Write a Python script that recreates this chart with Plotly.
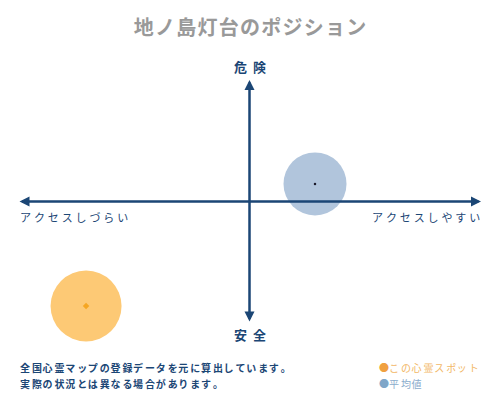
import plotly.graph_objects as go

title = "地ノ島灯台のポジション"

# 位置 (アクセス, 危険度) -10 ~ 10
spot_x = [-7.06]
spot_y = [-8.6]
avg_x = [2.83]
avg_y = [1.45]

label_top = "危険"
label_bottom = "安全"
label_left = "アクセスしづらい"
label_right = "アクセスしやすい"
note_lines = ["全国心霊マップの登録データを元に算出しています。", "実際の状況とは異なる場合があります。"]
legend_names = ["この心霊スポット", "平均値"]

navy = "#1b4675"
font_jp = "Noto Sans CJK JP"


def spaced(s, sep="\u2009"):
    return sep.join(list(s))


def spaced_mix(s):
    # thin / hair を交互に入れて字間を調整
    out = ""
    for i, c in enumerate(s):
        if i > 0:
            out += "\u2009" if i % 2 else "\u200a"
        out += c
    return out


fig = go.Figure()

# 平均値
fig.add_trace(go.Scatter(
    x=avg_x, y=avg_y, mode="markers", cliponaxis=False,
    marker=dict(size=63, color="#b1c5dc", line=dict(width=0)),
    hoverinfo="skip", showlegend=False,
))
fig.add_trace(go.Scatter(
    x=avg_x, y=avg_y, mode="markers", cliponaxis=False,
    marker=dict(size=2.5, color="#1a1a2a"),
    hoverinfo="skip", showlegend=False,
))

# この心霊スポット
fig.add_trace(go.Scatter(
    x=spot_x, y=spot_y, mode="markers", cliponaxis=False,
    marker=dict(size=71, color="#fdc975", line=dict(width=0)),
    hoverinfo="skip", showlegend=False,
))
fig.add_trace(go.Scatter(
    x=spot_x, y=spot_y, mode="markers", cliponaxis=False,
    marker=dict(size=5, color="#f5a623", symbol="diamond"),
    hoverinfo="skip", showlegend=False,
))

annotations = []

# 矢印 (両端)
annotations.append(dict(
    x=10, y=0, ax=-10, ay=0, xref="x", yref="y", axref="x", ayref="y",
    showarrow=True, arrowhead=2, arrowside="end+start", arrowsize=0.8,
    arrowwidth=2.5, arrowcolor=navy, text="",
))
annotations.append(dict(
    x=0, y=10, ax=0, ay=-10, xref="x", yref="y", axref="x", ayref="y",
    showarrow=True, arrowhead=2, arrowside="end+start", arrowsize=0.8,
    arrowwidth=2.5, arrowcolor=navy, text="",
))

axis_font = dict(family=font_jp, size=13, color=navy)
annotations.append(dict(x=250, y=67, text="<b>" + spaced(label_top, "  ") + "</b>",
                        showarrow=False, font=axis_font, yanchor="middle"))
annotations.append(dict(x=250, y=334, text="<b>" + spaced(label_bottom, "  ") + "</b>",
                        showarrow=False, font=axis_font, yanchor="middle"))

side_font = dict(family=font_jp, size=11, color=navy)
annotations.append(dict(x=18, y=217, text=spaced(label_left, "\u2009\u200a"),
                        showarrow=False, font=side_font, xanchor="left", yanchor="middle"))
annotations.append(dict(x=482, y=217, text=spaced(label_right, "\u2009\u200a"),
                        showarrow=False, font=side_font, xanchor="right", yanchor="middle"))

note_font = dict(family=font_jp, size=10, color=navy)
for i, line in enumerate(note_lines):
    annotations.append(dict(x=18, y=367 + 16 * i,
                            text="<b>" + spaced_mix(line) + "</b>",
                            showarrow=False, font=note_font, xanchor="left", yanchor="middle"))

legend_colors = ["#f0a040", "#7fa6c8"]
legend_text_colors = ["#f2b766", "#8aaccc"]
for i, name in enumerate(legend_names):
    annotations.append(dict(
        x=377, y=367 + 16 * i,
        text="<span style='color:%s'>●</span>%s" % (legend_colors[i], spaced_mix(name)),
        showarrow=False, font=dict(family=font_jp, size=10, color=legend_text_colors[i]),
        xanchor="left", yanchor="middle",
    ))

# ページの余白 (8px) を差し引いてピクセル位置を合わせる
OFF = 8
W, H = 500 - OFF, 400 - OFF
ml, mr, mt, mb = 18 - OFF, 500 - 481, 80 - OFF, 400 - 323
pw, ph = W - ml - mr, H - mt - mb
for a in annotations:
    if "xref" not in a:
        a["xref"] = "paper"
        a["yref"] = "paper"
        a["x"] = (a["x"] - OFF - ml) / pw
        a["y"] = (H - (a["y"] - OFF) - mb) / ph

fig.update_layout(
    width=W, height=H,
    margin=dict(l=ml, r=mr, t=mt, b=mb),
    paper_bgcolor="white", plot_bgcolor="white",
    title=dict(text="<b>" + spaced(title, "\u200a") + "</b>",
               x=(250 - OFF) / W, xanchor="center",
               y=1 - (28 - OFF) / H, yanchor="middle",
               font=dict(family=font_jp, size=20, color="#999999")),
    xaxis=dict(range=[-10, 10], visible=False, fixedrange=True),
    yaxis=dict(range=[-10, 10], visible=False, fixedrange=True),
    annotations=annotations,
    showlegend=False,
)

fig.write_html("out.html")
